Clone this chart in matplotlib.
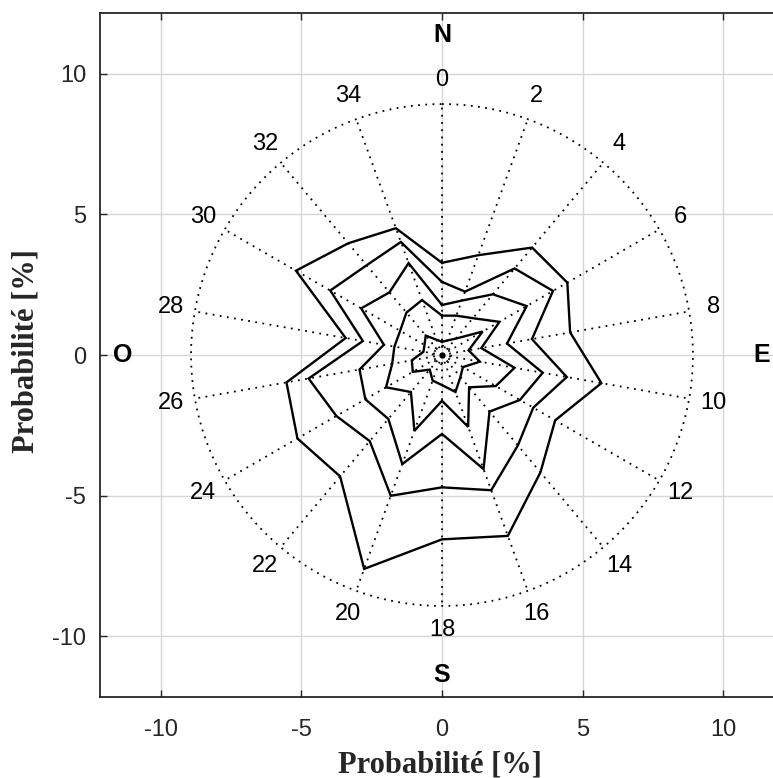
import numpy as np
import matplotlib.pyplot as plt

plt.rcParams['axes.unicode_minus'] = False

# directions in degrees, clockwise from north
directions = [0, 20, 40, 60, 80, 100, 120, 140, 160, 180, 200, 220, 240, 260, 280, 300, 320, 340]
dir_labels = ['0', '2', '4', '6', '8', '10', '12', '14', '16', '18',
              '20', '22', '24', '26', '28', '30', '32', '34']

# probability contours [%], one radius per direction (outer -> inner)
level_1 = [3.28, 3.78, 4.99, 5.15, 4.63, 5.76, 4.65, 5.45, 6.85, 6.56, 8.10, 5.64, 5.94, 5.62, 3.48, 6.00, 5.19, 4.80]
level_2 = [2.60, 2.40, 4.02, 4.56, 3.25, 4.51, 3.75, 4.20, 5.12, 4.71, 5.33, 4.00, 4.34, 4.82, 2.86, 4.59, 4.17, 4.28]
level_3 = [1.78, 2.06, 2.82, 3.48, 2.35, 3.64, 3.20, 2.63, 4.32, 2.81, 4.13, 2.97, 3.15, 2.98, 2.10, 3.32, 2.91, 3.48]
level_4 = [1.40, 1.49, 1.71, 2.36, 1.42, 2.62, 2.21, 1.50, 2.72, 1.63, 2.87, 1.72, 2.30, 1.80, 1.72, 1.72, 1.97, 2.08]
level_5 = [0.47, 0.55, 0.76, 1.67, 0.96, 1.37, 0.86, 1.02, 1.40, 1.07, 0.97, 0.68, 1.20, 1.09, 0.67, 0.72, 0.90, 0.58]
levels = [level_1, level_2, level_3, level_4, level_5]

compass = ['N', 'E', 'S', 'O']
compass_dirs = [0, 90, 180, 270]

r_max = 8.93
r_calm = 0.33
lim = 12.17

fig = plt.figure(figsize=(7.73, 7.78), dpi=100)
ax = fig.add_axes([100 / 773, 81 / 778, 684 / 773, 684 / 778])
ax.set_xlim(-lim, lim)
ax.set_ylim(-lim, lim)

dot = (0, (1, 3))
th = np.radians(directions)

# dotted frame: outer circle, radial spokes, calm circle
t = np.linspace(0, 2 * np.pi, 400)
ax.plot(r_max * np.sin(t), r_max * np.cos(t), color='black', lw=1.3, linestyle=dot, zorder=2)
ax.plot(r_calm * np.sin(t), r_calm * np.cos(t), color='black', lw=1.3, linestyle=dot, zorder=2)
for a in th:
    ax.plot([0, r_max * np.sin(a)], [0, r_max * np.cos(a)], color='black', lw=1.3, linestyle=dot, zorder=2)
ax.plot([0], [0], marker='o', color='black', markersize=3.5, zorder=3)

# contour polygons
for r in levels:
    r = np.array(r + r[:1])
    a = np.append(th, th[0])
    ax.plot(r * np.sin(a), r * np.cos(a), color='black', lw=1.7, zorder=3, solid_joinstyle='miter')

# direction labels
for a, lab in zip(th, dir_labels):
    ax.text(9.8 * np.sin(a), 9.8 * np.cos(a), lab, ha='center', va='center',
            fontsize=17, family='Liberation Sans', color='black')
for d, lab in zip(compass_dirs, compass):
    a = np.radians(d)
    ax.text(11.38 * np.sin(a), 11.38 * np.cos(a), lab, ha='center', va='center',
            fontsize=18, fontweight='bold', family='Liberation Sans', color='black')

ax.set_xticks([-10, -5, 0, 5, 10])
ax.set_yticks([-10, -5, 0, 5, 10])
ax.grid(True, color='#d6d6d6', lw=1.0, zorder=0)
ax.set_axisbelow(True)
ax.tick_params(direction='in', length=5, width=1, top=True, right=True, colors='#262626', labelsize=17)
ax.tick_params(axis='x', pad=16)
ax.tick_params(axis='y', pad=10)
for lab in ax.get_xticklabels() + ax.get_yticklabels():
    lab.set_family('Liberation Sans')
for spine in ax.spines.values():
    spine.set_color('#262626')
    spine.set_linewidth(1.3)

ax.set_xlabel('Probabilité [%]', fontsize=22, fontweight='bold', family='Liberation Serif', color='#262626')
ax.set_ylabel('Probabilité [%]', fontsize=22, fontweight='bold', family='Liberation Serif', color='#262626')
ax.xaxis.set_label_coords(0.497, -0.078)
ax.yaxis.set_label_coords(-0.087, 0.506)

fig.savefig('out.png', dpi=100)
